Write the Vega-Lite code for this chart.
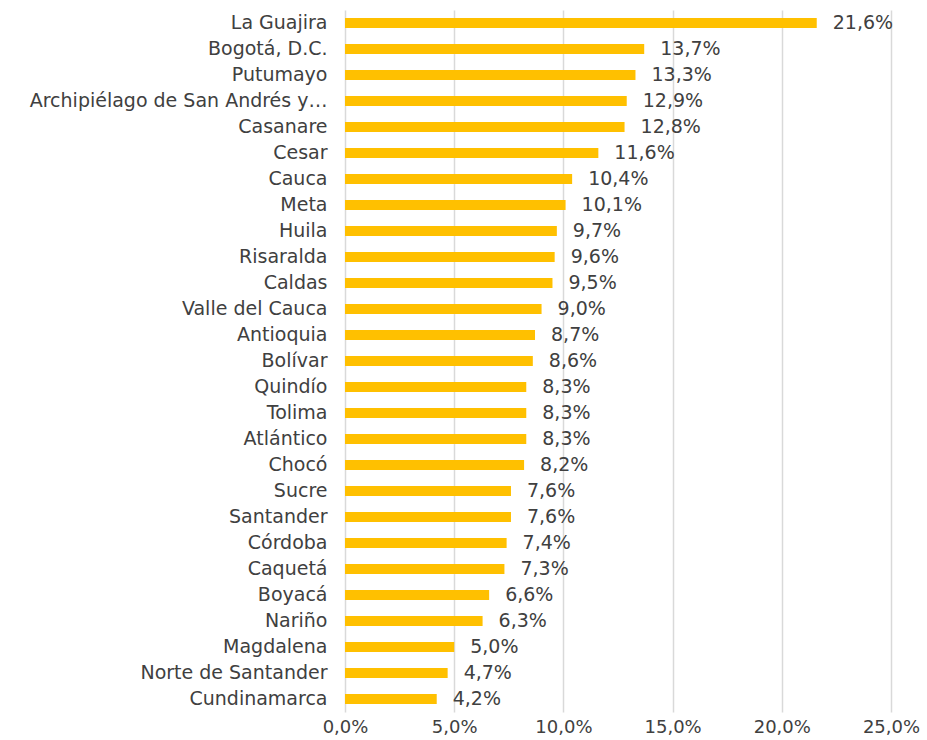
{
  "$schema": "https://vega.github.io/schema/vega-lite/v6.json",
  "width": 546,
  "height": 702,
  "autosize": {"type": "none"},
  "padding": {"left": 345, "top": 10, "right": 36, "bottom": 28},
  "background": "white",
  "config": {
    "view": {"stroke": null},
    "locale": {"number": {"decimal": ",", "thousands": ".", "grouping": [3], "currency": ["$", ""]}},
    "font": "DejaVu Sans"
  },
  "data": {
    "values": [
      {"departamento": "La Guajira", "valor": 0.216},
      {"departamento": "Bogotá, D.C.", "valor": 0.137},
      {"departamento": "Putumayo", "valor": 0.133},
      {"departamento": "Archipiélago de San Andrés y…", "valor": 0.129},
      {"departamento": "Casanare", "valor": 0.128},
      {"departamento": "Cesar", "valor": 0.116},
      {"departamento": "Cauca", "valor": 0.104},
      {"departamento": "Meta", "valor": 0.101},
      {"departamento": "Huila", "valor": 0.097},
      {"departamento": "Risaralda", "valor": 0.096},
      {"departamento": "Caldas", "valor": 0.095},
      {"departamento": "Valle del Cauca", "valor": 0.090},
      {"departamento": "Antioquia", "valor": 0.087},
      {"departamento": "Bolívar", "valor": 0.086},
      {"departamento": "Quindío", "valor": 0.083},
      {"departamento": "Tolima", "valor": 0.083},
      {"departamento": "Atlántico", "valor": 0.083},
      {"departamento": "Chocó", "valor": 0.082},
      {"departamento": "Sucre", "valor": 0.076},
      {"departamento": "Santander", "valor": 0.076},
      {"departamento": "Córdoba", "valor": 0.074},
      {"departamento": "Caquetá", "valor": 0.073},
      {"departamento": "Boyacá", "valor": 0.066},
      {"departamento": "Nariño", "valor": 0.063},
      {"departamento": "Magdalena", "valor": 0.050},
      {"departamento": "Norte de Santander", "valor": 0.047},
      {"departamento": "Cundinamarca", "valor": 0.042}
    ]
  },
  "encoding": {
    "y": {
      "field": "departamento",
      "type": "nominal",
      "sort": null,
      "scale": {"paddingInner": 0.62, "paddingOuter": 0.31},
      "axis": {
        "title": null,
        "domain": false,
        "ticks": false,
        "labelPadding": 18,
        "labelFontSize": 19,
        "labelColor": "#404040",
        "labelLimit": 0
      }
    },
    "x": {
      "field": "valor",
      "type": "quantitative",
      "scale": {"domain": [0, 0.25], "nice": false},
      "axis": {
        "title": null,
        "format": ".1%",
        "values": [0, 0.05, 0.1, 0.15, 0.2, 0.25],
        "domain": false,
        "ticks": false,
        "grid": true,
        "gridColor": "#d9d9d9",
        "gridWidth": 1.5,
        "labelPadding": 6,
        "labelFontSize": 18,
        "labelColor": "#404040",
        "labelFlush": false
      }
    }
  },
  "layer": [
    {"mark": {"type": "bar", "color": "#FFC000"}},
    {
      "mark": {"type": "text", "align": "left", "baseline": "middle", "dx": 16, "fontSize": 19, "color": "#404040"},
      "encoding": {"text": {"field": "valor", "type": "quantitative", "format": ".1%"}}
    }
  ]
}
